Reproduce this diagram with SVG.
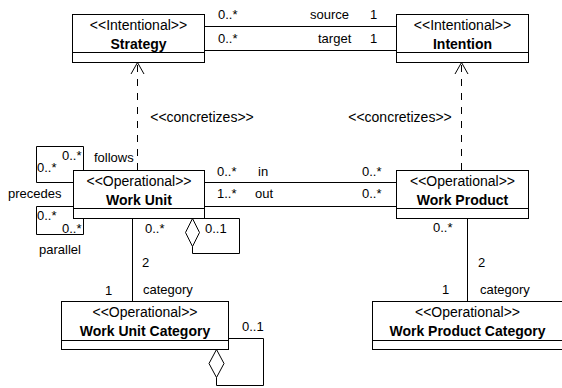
<svg xmlns="http://www.w3.org/2000/svg" width="562" height="388" viewBox="0 0 562 388">
<style>
.box{fill:#fff;stroke:#000;stroke-width:1}
.ln{fill:none;stroke:#000;stroke-width:1}
.dash{fill:none;stroke:#000;stroke-width:1;stroke-dasharray:7 7}
.dia{fill:#fff;stroke:#000;stroke-width:1}
.st{font-family:"Liberation Sans",Arial,sans-serif;font-size:14px;text-anchor:middle;fill:#000}
.nm{font-family:"Liberation Sans",Arial,sans-serif;font-size:14px;font-weight:bold;text-anchor:middle;fill:#000}
.lb{font-family:"Liberation Sans",Arial,sans-serif;font-size:13px;fill:#000}
</style>
<defs>
<marker id="open" viewBox="0 0 14 13" refX="7" refY="0.5" markerWidth="14" markerHeight="13" markerUnits="userSpaceOnUse" orient="auto-start-reverse" overflow="visible">
<path d="M0.5,12.5 L7,0.5 L13.5,12.5" fill="none" stroke="#000" stroke-width="1"/>
</marker>
</defs>
<g id="connectors">
<path class="ln" d="M204.5,26.5 H396"/>
<path class="ln" d="M204.5,50.5 H396"/>
<path class="ln" d="M204.5,182.5 H396"/>
<path class="ln" d="M204.5,206.5 H396"/>
<path class="dash" d="M137.5,170 V63"/>
<path class="ln" d="M131,74 L137.5,62.5 L144,74"/>
<path class="dash" d="M461.5,170 V63"/>
<path class="ln" d="M455,74 L461.5,62.5 L468,74"/>
<path class="ln" d="M83.5,170.5 V146.5 H36.5 V182.5 H73"/>
<path class="ln" d="M73,206.5 H36.5 V234.5 H83.5 V218.5"/>
<path class="ln" d="M132.5,218.5 V301.5"/>
<path class="ln" d="M467.5,218.5 V301.5"/>
<path class="ln" d="M192.5,246.5 V253.5 H239.5 V218.5 H204.5"/>
<path class="dia" d="M192.5,218.5 L199.5,232.5 L192.5,246.5 L185.5,232.5 Z"/>
<path class="ln" d="M216.5,377.5 V385.5 H263.5 V338.5 H228.5"/>
<path class="dia" d="M216.5,349.5 L224,363.5 L216.5,377.5 L209,363.5 Z"/>
<text class="lb" x="218" y="19">0..*</text>
<text class="lb" x="310" y="19">source</text>
<text class="lb" x="370" y="19">1</text>
<text class="lb" x="218" y="43">0..*</text>
<text class="lb" x="318" y="43">target</text>
<text class="lb" x="370" y="43">1</text>
<text class="st" x="202" y="122">&lt;&lt;concretizes&gt;&gt;</text>
<text class="st" x="400" y="122">&lt;&lt;concretizes&gt;&gt;</text>
<text class="lb" x="62" y="160">0..*</text>
<text class="lb" x="37" y="172">0..*</text>
<text class="lb" x="94" y="162">follows</text>
<text class="lb" x="8" y="198">precedes</text>
<text class="lb" x="37" y="220">0..*</text>
<text class="lb" x="62" y="233">0..*</text>
<text class="lb" x="39" y="254">parallel</text>
<text class="lb" x="217" y="176">0..*</text>
<text class="lb" x="258" y="176">in</text>
<text class="lb" x="362" y="176">0..*</text>
<text class="lb" x="217" y="198">1..*</text>
<text class="lb" x="255" y="198">out</text>
<text class="lb" x="362" y="198">0..*</text>
<text class="lb" x="145" y="233">0..*</text>
<text class="lb" x="205" y="233">0..1</text>
<text class="lb" x="142" y="267">2</text>
<text class="lb" x="105" y="295">1</text>
<text class="lb" x="143" y="294">category</text>
<text class="lb" x="242" y="331">0..1</text>
<text class="lb" x="433" y="232">0..*</text>
<text class="lb" x="478" y="267">2</text>
<text class="lb" x="442" y="294">1</text>
<text class="lb" x="480" y="294">category</text>
</g>
<g id="strategy">
<rect class="box" x="72.5" y="14.5" width="132" height="48"/>
<path class="ln" d="M72.5,52.5 H204.5"/>
<text class="st" x="138.5" y="30">&lt;&lt;Intentional&gt;&gt;</text>
<text class="nm" x="138.5" y="49">Strategy</text>
</g>
<g id="intention">
<rect class="box" x="396.5" y="14.5" width="132" height="48"/>
<path class="ln" d="M396.5,52.5 H528.5"/>
<text class="st" x="462.5" y="30">&lt;&lt;Intentional&gt;&gt;</text>
<text class="nm" x="462.5" y="49">Intention</text>
</g>
<g id="work-unit">
<rect class="box" x="73.5" y="170.5" width="131" height="48"/>
<path class="ln" d="M73.5,208.5 H204.5"/>
<text class="st" x="139" y="186">&lt;&lt;Operational&gt;&gt;</text>
<text class="nm" x="139" y="205">Work Unit</text>
</g>
<g id="work-product">
<rect class="box" x="396.5" y="170.5" width="132" height="48"/>
<path class="ln" d="M396.5,208.5 H528.5"/>
<text class="st" x="462.5" y="186">&lt;&lt;Operational&gt;&gt;</text>
<text class="nm" x="462.5" y="205">Work Product</text>
</g>
<g id="work-unit-category">
<rect class="box" x="61.5" y="301.5" width="167" height="48"/>
<path class="ln" d="M61.5,340.5 H228.5"/>
<text class="st" x="145" y="317">&lt;&lt;Operational&gt;&gt;</text>
<text class="nm" x="145" y="336">Work Unit Category</text>
</g>
<g id="work-product-category">
<rect class="box" x="372.5" y="301.5" width="191" height="48"/>
<path class="ln" d="M372.5,340.5 H563"/>
<text class="st" x="467.5" y="317">&lt;&lt;Operational&gt;&gt;</text>
<text class="nm" x="467.5" y="336">Work Product Category</text>
</g>
</svg>
